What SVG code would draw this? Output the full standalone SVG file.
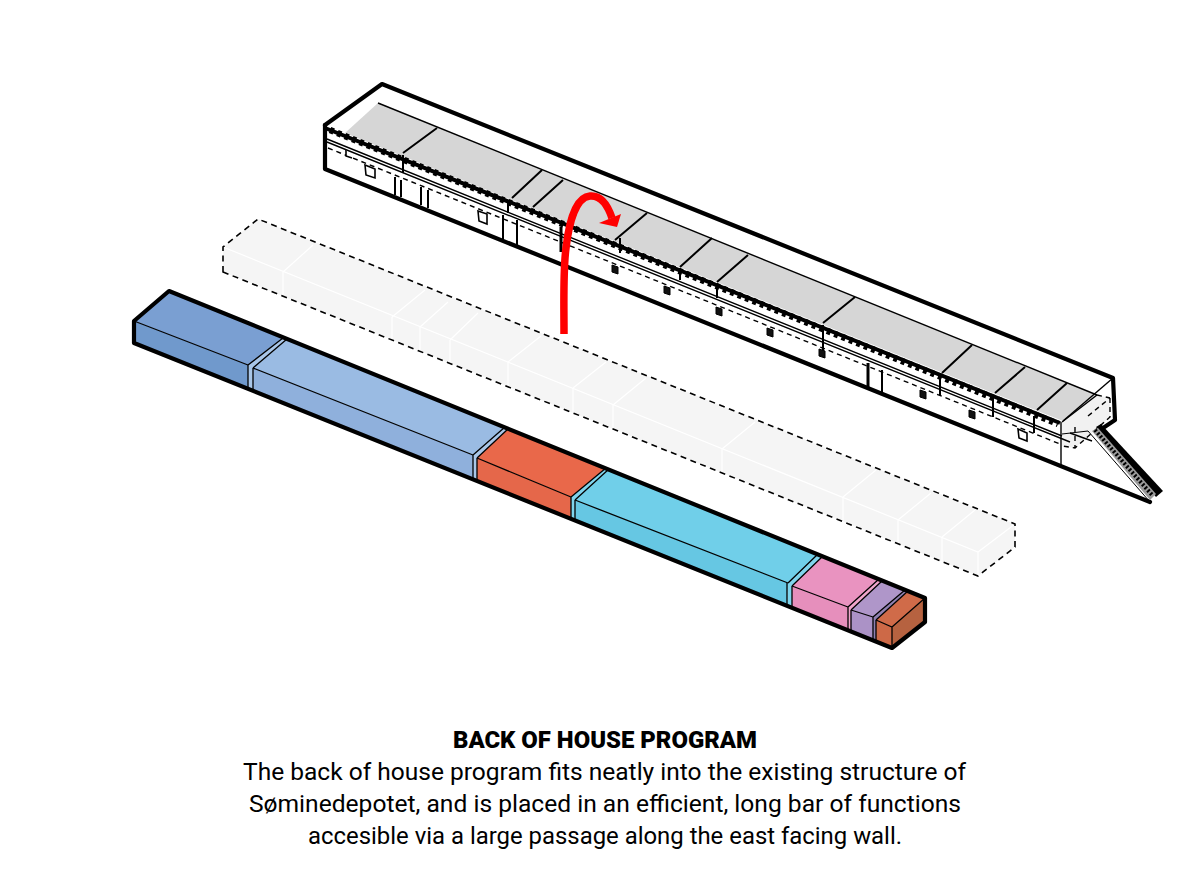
<svg xmlns="http://www.w3.org/2000/svg" width="1200" height="889" viewBox="0 0 1200 889">
<style>
.o{fill:none;stroke:#000;stroke-width:4.2;stroke-linejoin:round;stroke-linecap:round}
.m{fill:none;stroke:#000;stroke-width:2;stroke-linecap:butt}
.t{fill:none;stroke:#000;stroke-width:1.4}
.d{fill:none;stroke:#000;stroke-width:1.4;stroke-dasharray:5 4}
.e{fill:none;stroke:#000;stroke-width:1.3}
.g{fill:none;stroke:#fff;stroke-width:1.2}
.w{fill:#111;stroke:#000;stroke-width:1}
.wo{fill:#fff;stroke:#000;stroke-width:1.6}
text{font-family:"Roboto","Liberation Sans",sans-serif;fill:#000;text-anchor:middle}
</style>
<rect width="1200" height="889" fill="#fff"/>

<g id="building">
  <polygon points="378,103 1097,395 1063,421 345,133" fill="#d6d6d6"/>
  <polygon points="1097,395 1110,398 1110,417 1075,448 1062,446 1062,422" fill="#f1f1f1"/>
  <path class="o" d="M325,125 L382,84 L1113,378 L1115,420 L1103,428"/>
  <path class="o" d="M325,125 V169 L1150,502"/>
  <path d="M325,128 L1060,423" fill="none" stroke="#000" stroke-width="4"/>
  <path d="M330,130 L1058,424" fill="none" stroke="#000" stroke-width="6.500" stroke-dasharray="4 4"/>
  <path class="t" d="M378,103 L1097,395"/>
  <path class="t" d="M1113,378 L1063,421"/>
  <path class="t" d="M1097,395 L1062,422 M1061,422 V465"/>
  <path class="t" d="M327,139 L1062,436 M327,142 L1070,442 M1070,433 L1092,441"/>
  <path class="d" d="M328,148 L1060,444"/>
  <path class="d" d="M1110,398 V417 L1075,448 L1062,446 M1097,395 L1110,398 M1088,416 L1110,398 M1075,427 V448"/>
  <g class="m">
    <path d="M437,128 L403,153 M542,170 L512,198 M563,180 L533,207 M647,213 L615,240 M712,238 L680,267 M748,255 L717,282 M855,297 L823,323 M972,345 L942,373 M1025,367 L995,393 M1067,383 L1037,410"/>
    <path d="M395,177 V195 M401,180 V197 M421,187 V205 M428,190 V208 M503,215 V240 M517,220 V245 M403,155 V173 M508,202 V213 M620,238 V253 M680,268 V280 M717,284 V298 M823,325 V352 M882,370 V392 M940,378 V395 M993,398 V417 M1034,416 V433"/>
    <path d="M868,363 V387" stroke-width="3"/>
    <path d="M561,227 V252" stroke-width="3"/>
  </g>
  <path class="wo" d="M365,165 L375,169 V178 L366,175 Z"/>
  <path class="wo" d="M346,150 V156 L352,158"/>
  <path class="wo" d="M478,211 L487,214 V224 L479,221 Z"/>
  <path class="wo" d="M1018,429 L1027,433 V441 L1019,438 Z"/>
  <path class="w" d="M612,265 L618,267 V274 L612,272 Z"/>
  <path class="w" d="M664,286 L670,288 V295 L664,293 Z"/>
  <path class="w" d="M716,307 L722,309 V316 L716,314 Z"/>
  <path class="w" d="M767,328 L773,330 V337 L767,335 Z"/>
  <path class="w" d="M819,349 L825,351 V358 L819,356 Z"/>
  <path class="w" d="M920,390 L926,392 V399 L920,397 Z"/>
  <path class="w" d="M969,410 L975,412 V419 L969,417 Z"/>
  <g id="ramp">
    <polygon points="1096,427 1101,424 1163,491 1156,497" fill="#000"/>
    <polygon points="1092,431 1098,428 1156,494 1150,500" fill="#9a9a9a"/>
    <path d="M1095,430 L1153,496" fill="none" stroke="#000" stroke-width="4" stroke-dasharray="2 2"/>
    <path d="M1062,434 L1088,431 L1150,502" fill="none" stroke="#000" stroke-width="1"/>
  </g>
</g>

<g id="ghost-bar">
  <polygon points="258,219 1015,524 1015,547 978,576 223,272 223,247" fill="#f5f5f5"/>
  <path class="g" d="M223,247 L978,552 L1015,524 M978,552 V576"/>
  <path class="g" d="M283,272 L313,245 M283,272 V297 M392,317 L425,290 M392,317 V341 M420,327 L448,302 M420,327 V352 M450,340 L478,313 M450,340 V364 M508,362 L541,336 M508,362 V387 M573,388 L606,362 M573,388 V413 M613,405 L646,378 M613,405 V429 M722,449 L755,422 M722,449 V473 M843,497 L876,470 M843,497 V522 M898,520 L931,493 M898,520 V544 M942,537 L975,510 M942,537 V562"/>
  <path fill="none" stroke="#000" stroke-width="1.6" stroke-dasharray="6 4.5" d="M223,272 V247 L258,219 L1015,524 V547 L978,576 Z"/>
</g>

<g id="bar-1">
  <polygon points="134,321 169,291 283,338 248,365" fill="#7a9fd2"/>
  <polygon points="134,321 248,365 248,389 134,343" fill="#7099cc"/>
</g>
<g id="bar-2">
  <polygon points="253,368 287,339 505,427 473,455" fill="#9abbe3"/>
  <polygon points="253,368 473,455 473,480 253,391" fill="#8fb0dc"/>
  <polygon points="248,365 283,338 287,339 253,368 253,391 248,389" fill="#a9c6e8"/>
</g>
<g id="bar-3">
  <polygon points="477,458 508,429 606,468 571,497" fill="#e9684a"/>
  <polygon points="477,458 571,497 571,519 477,481" fill="#e5674a"/>
  <polygon points="473,455 505,427 508,429 477,458 477,481 473,480" fill="#a9c6e8"/>
</g>
<g id="bar-4">
  <polygon points="575,500 609,469 818,554 788,583" fill="#70cfe9"/>
  <polygon points="575,500 788,583 787,606 575,521" fill="#66c7e3"/>
  <polygon points="571,497 606,468 609,469 575,500 575,521 571,519" fill="#7fd4ec"/>
</g>
<g id="bar-5">
  <polygon points="792,586 823,556 879,579 848,607" fill="#e993c0"/>
  <polygon points="792,586 848,607 848,629 792,608" fill="#e68fbc"/>
  <polygon points="788,583 818,554 823,556 792,586 792,608 787,606" fill="#7fd4ec"/>
</g>
<g id="bar-6">
  <polygon points="851,610 882,581 905,590 873,617" fill="#af96c9"/>
  <polygon points="851,610 873,617 873,639 851,631" fill="#ab92c6"/>
  <polygon points="848,607 879,579 882,581 851,610 851,631 848,629" fill="#f0a5cc"/>
</g>
<g id="bar-7">
  <polygon points="876,620 908,591 925,598 892,627" fill="#d06b49"/>
  <polygon points="876,620 892,627 892,648 876,641" fill="#cd6947"/>
  <polygon points="892,627 925,598 925,622 892,648" fill="#b66240"/>
  <polygon points="873,617 905,590 908,591 876,620 876,641 873,639" fill="#8f80b0"/>
</g>
<g id="bar-lines">
  <path class="e" d="M134,321 L248,365 M253,368 L473,455 M477,458 L571,497 M575,500 L788,583 M792,586 L848,607 M851,610 L873,617 M876,620 L892,627 L925,598 M892,627 V648"/>
  <path class="e" d="M248,365 L283,338 M248,365 V389 M253,368 L287,339 M253,368 V391 M473,455 L505,427 M473,455 V480 M477,458 L508,429 M477,458 V481 M571,497 L606,468 M571,497 V519 M575,500 L609,469 M575,500 V521 M788,583 L818,554 M787,583 V606 M792,586 L823,556 M792,586 V608 M848,607 L879,579 M848,607 V629 M851,610 L882,581 M851,610 V631 M873,617 L905,590 M873,617 V639 M876,620 L908,591 M876,620 V641"/>
  <path class="o" d="M134,321 L169,291 L925,598 V622 L892,648 L134,343 Z"/>
</g>

<g id="connectors">
  <path d="M564,334 C564,300 563,270 566,248 C569,222 576,197 590,196 C601,195 608,206 612,218" fill="none" stroke="#f00" stroke-width="7.500"/>
  <polygon points="621,214 599,223 617,227" fill="#f00"/>
</g>

<g id="caption">
  <text x="605" y="748" font-size="23" font-weight="900" textLength="304" lengthAdjust="spacingAndGlyphs">BACK OF HOUSE PROGRAM</text>
  <text x="604.500" y="780" font-size="24" textLength="723" lengthAdjust="spacingAndGlyphs">The back of house program fits neatly into the existing structure of</text>
  <text x="605" y="812" font-size="24" textLength="712" lengthAdjust="spacingAndGlyphs">Søminedepotet, and is placed in an efficient, long bar of functions</text>
  <text x="605" y="844" font-size="24" textLength="594" lengthAdjust="spacingAndGlyphs">accesible via a large passage along the east facing wall.</text>
</g>
</svg>
